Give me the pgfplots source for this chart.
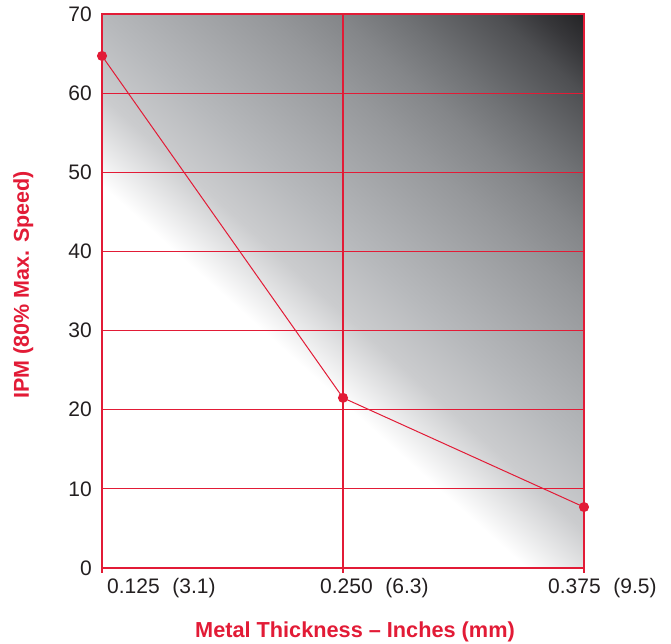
\documentclass[border=0pt]{standalone}
\usepackage{fontspec}
\setmainfont{Liberation Sans}
\usepackage{pgfplots}
\pgfplotsset{compat=1.18}

\definecolor{myred}{RGB}{226,27,54}
\definecolor{tickgray}{RGB}{35,31,32}
\definecolor{sha}{RGB}{203,204,206}
\definecolor{shb}{RGB}{183,185,188}
\definecolor{shc}{RGB}{150,152,155}
\definecolor{shd}{RGB}{132,134,137}
\definecolor{she}{RGB}{112,114,117}
\definecolor{shf}{RGB}{78,79,82}
\definecolor{shg}{RGB}{55,55,58}
\definecolor{shh}{RGB}{34,34,36}

% background: white in the lower left, dark in the upper right
\pgfdeclarehorizontalshading{bgshade}{100bp}{%
  color(0bp)=(white); color(42bp)=(white); color(48.4bp)=(sha);
  color(54bp)=(shb); color(64.6bp)=(shc); color(69.4bp)=(shd);
  color(73.4bp)=(she); color(79.6bp)=(shf); color(82.4bp)=(shg);
  color(85.5bp)=(shh); color(100bp)=(shh)}

\begin{document}
\begin{tikzpicture}
\path[use as bounding box] (-102pt,-76pt) rectangle (569pt,568pt);

\begin{axis}[
  at={(0pt,0pt)}, anchor=south west,
  scale only axis,
  width=482pt, height=554pt,
  xmin=0.125, xmax=0.375,
  ymin=0, ymax=70,
  xtick={0.125,0.25,0.375},
  xticklabels={},
  ytick={0,10,...,70},
  xtick pos=bottom, ytick pos=left,
  tick align=outside,
  major tick length=5pt,
  x tick style={draw=myred, line width=1.3pt},
  y tick style={draw=none},
  xmajorgrids, ymajorgrids,
  major x grid style={draw=myred, line width=1.4pt},
  major y grid style={draw=myred, line width=1pt},
  axis line style={draw=myred, line width=1.6pt},
  axis background/.style={shading=bgshade, shading angle=48},
  /pgf/number format/assume math mode=true,
  yticklabel style={font=\fontsize{21}{25}\selectfont, text=tickgray, inner xsep=0pt, xshift=-5pt},
  clip=false,
]
\addplot[myred, line width=1pt, mark=*, mark size=4.5pt,
  mark options={fill=myred, draw=myred}]
  coordinates {(0.125,64.7) (0.250,21.5) (0.375,7.7)};

\begin{scope}[every node/.style={font=\fontsize{21}{25}\selectfont, text=tickgray, anchor=base west, inner sep=0pt}]
\node[xshift=5pt, yshift=-26pt] at (axis cs:0.125,0) {0.125\hspace{0.6em}(3.1)};
\node[xshift=-23pt, yshift=-26pt] at (axis cs:0.25,0) {0.250\hspace{0.6em}(6.3)};
\node[xshift=-36pt, yshift=-26pt] at (axis cs:0.375,0) {0.375\hspace{0.6em}(9.5)};
\end{scope}
\end{axis}

\node[anchor=base, inner sep=0pt, text=myred, font=\bfseries\fontsize{21.7}{26}\selectfont]
  at (253pt,-70pt) {Metal Thickness – Inches (mm)};
\node[anchor=base, rotate=90, inner sep=0pt, text=myred, font=\bfseries\fontsize{21.5}{26}\selectfont]
  at (-73pt,283pt) {IPM (80\% Max. Speed)};
\end{tikzpicture}
\end{document}
